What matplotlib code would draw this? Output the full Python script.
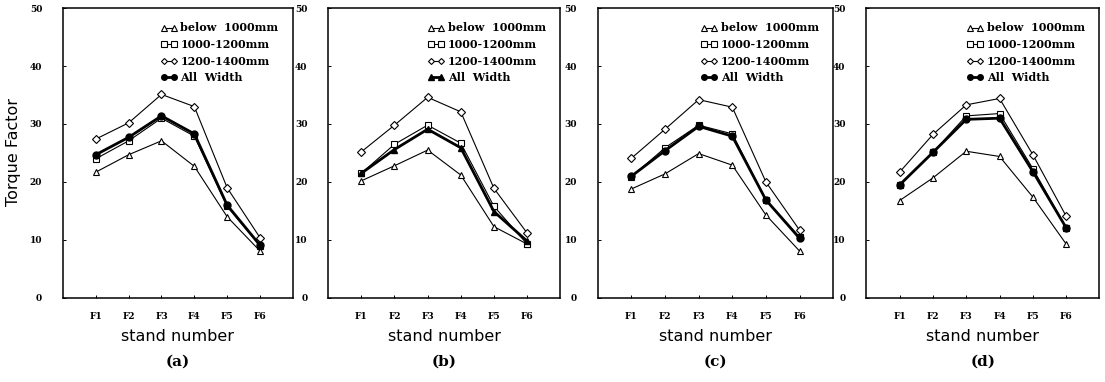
import matplotlib
matplotlib.use("Agg")
import matplotlib.pyplot as plt

stands = ["F1", "F2", "F3", "F4", "F5", "F6"]
yticks = [0, 10, 20, 30, 40, 50]
series_names = ["below  1000mm", "1000-1200mm", "1200-1400mm", "All  Width"]
panel_labels = ["(a)", "(b)", "(c)", "(d)"]

# panel (a)
a_below = [21.7, 24.7, 27.1, 22.7, 14.0, 8.1]
a_mid = [24.0, 27.1, 31.0, 27.9, 15.8, 9.0]
a_high = [27.4, 30.2, 35.1, 33.0, 19.0, 10.4]
a_all = [24.7, 27.7, 31.4, 28.3, 16.0, 9.1]
# panel (b)
b_below = [20.2, 22.8, 25.5, 21.2, 12.3, 9.3]
b_mid = [21.5, 26.5, 29.8, 26.7, 15.8, 9.3]
b_high = [25.2, 29.8, 34.6, 32.1, 18.9, 11.2]
b_all = [21.5, 25.6, 29.1, 25.9, 14.9, 9.8]
# panel (c)
c_below = [18.8, 21.4, 24.9, 22.9, 14.3, 8.1]
c_mid = [20.9, 25.9, 29.8, 28.3, 16.9, 10.5]
c_high = [24.1, 29.1, 34.2, 32.9, 20.0, 11.7]
c_all = [21.0, 25.4, 29.6, 27.9, 16.9, 10.3]
# panel (d)
d_below = [16.8, 20.7, 25.3, 24.4, 17.4, 9.3]
d_mid = [19.5, 25.1, 31.4, 31.8, 22.3, 12.1]
d_high = [21.7, 28.2, 33.3, 34.4, 24.7, 14.1]
d_all = [19.5, 25.1, 30.8, 31.0, 21.8, 12.1]

panels = [
    (a_below, a_mid, a_high, a_all, "o"),
    (b_below, b_mid, b_high, b_all, "^"),
    (c_below, c_mid, c_high, c_all, "o"),
    (d_below, d_mid, d_high, d_all, "o"),
]

fig = plt.figure(figsize=(11.05, 3.82), dpi=100)
lefts = [0.057, 0.297, 0.541, 0.784]
widths = [0.208, 0.210, 0.213, 0.211]
bottom, height = 0.22, 0.759

serif = "DejaVu Serif"
xs = list(range(1, len(stands) + 1))

for i, (below, mid, high, allw, allm) in enumerate(panels):
    ax = fig.add_axes([lefts[i], bottom, widths[i], height])
    ax.plot(xs, below, color="black", lw=0.8, marker="^", ms=5,
            mfc="white", mec="black", mew=0.8, label=series_names[0], zorder=3)
    ax.plot(xs, mid, color="black", lw=0.8, marker="s", ms=5,
            mfc="white", mec="black", mew=0.8, label=series_names[1], zorder=3)
    ax.plot(xs, high, color="black", lw=0.8, marker="D", ms=3.8,
            mfc="white", mec="black", mew=0.8, label=series_names[2], zorder=3)
    ax.plot(xs, allw, color="black", lw=2.0, marker=allm, ms=5,
            mfc="black", mec="black", label=series_names[3], zorder=4)
    ax.set_xlim(0, 7)
    ax.set_ylim(0, 50)
    ax.set_xticks(xs)
    ax.set_xticklabels(stands, fontfamily=serif, fontweight="bold", fontsize=6.5)
    ax.set_yticks(yticks)
    ax.set_yticklabels([str(v) for v in yticks], fontfamily=serif,
                       fontweight="bold", fontsize=6.5)
    ax.tick_params(axis="x", direction="in", length=2.5, width=0.7, pad=10)
    ax.tick_params(axis="y", direction="in", length=2.5, width=0.7, pad=15)
    for s in ax.spines.values():
        s.set_linewidth(1.1)
    ax.set_xlabel("stand number", fontsize=11.5, fontfamily="DejaVu Sans",
                  labelpad=6)
    ax.legend(loc="upper right", frameon=False, numpoints=2,
              handlelength=1.5, handletextpad=0.3, labelspacing=0.5,
              borderaxespad=0.9, markerscale=0.8,
              prop={"family": serif, "weight": "bold", "size": 8})
    ax.text(0.5, -0.22, panel_labels[i], transform=ax.transAxes,
            ha="center", va="center", fontsize=11, fontfamily=serif,
            fontweight="bold")

fig.text(0.012, 0.602, "Torque Factor", rotation=90, ha="center", va="center",
         fontsize=11.5, fontfamily="DejaVu Sans")

fig.savefig("out.png", dpi=100)
